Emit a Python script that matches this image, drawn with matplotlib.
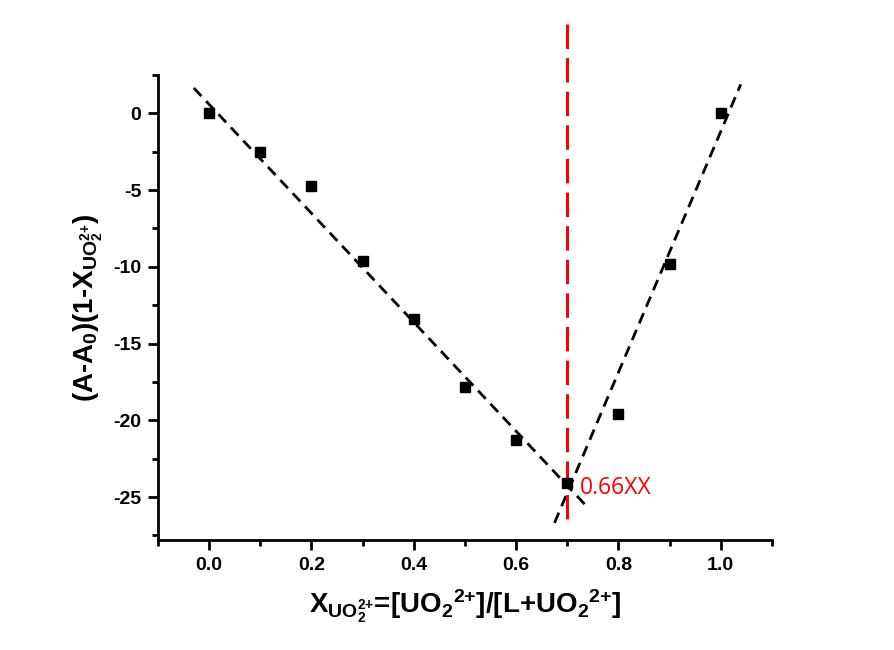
import numpy as np
import matplotlib.pyplot as plt
from matplotlib.ticker import MultipleLocator

plt.rcParams['font.family'] = 'Liberation Sans'
plt.rcParams['axes.unicode_minus'] = False
plt.rcParams['mathtext.fontset'] = 'custom'
plt.rcParams['mathtext.rm'] = 'Liberation Sans:bold'
plt.rcParams['mathtext.it'] = 'Liberation Sans:bold'
plt.rcParams['mathtext.bf'] = 'Liberation Sans:bold'
plt.rcParams['mathtext.default'] = 'rm'

# mole fraction of UO2 2+ and measured (A-A0)(1-X)
x_frac = [0.0, 0.1, 0.2, 0.3, 0.4, 0.5, 0.6, 0.7, 0.8, 0.9, 1.0]
y_val = [0.0, -2.5, -4.7, -9.6, -13.4, -17.8, -21.3, -24.1, -19.6, -9.8, 0.0]

left_fit = (-35.5, 0.59)
right_fit = (78.5, -79.67)
left_span = [-0.03, 0.734]
right_span = [0.675, 1.039]
x_cross = 0.7
cross_label = '0.66XX'

x = np.array(x_frac)
y = np.array(y_val)

fig = plt.figure(figsize=(8.94, 6.5), dpi=100)
ax = fig.add_axes([0.1767, 0.1692, 0.6868, 0.7154])

ax.plot(x, y, 's', color='black', markersize=7, zorder=5)

xs1 = np.array(left_span)
xs2 = np.array(right_span)
ax.plot(xs1, np.polyval(left_fit, xs1), color='black', lw=2, dashes=(4, 2.5))
ax.plot(xs2, np.polyval(right_fit, xs2), color='black', lw=2, dashes=(4, 2.5))

# red vertical marker, runs above the axes
ax.plot([x_cross, x_cross], [-26.4, 6.2], color='red', lw=2.2,
        dashes=(8, 3), clip_on=False, zorder=4)
ax.text(x_cross + 0.025, -24.4, cross_label, color='red', fontsize=16.5,
        family='Open Sans', va='center', ha='left')

ax.set_xlim(-0.1, 1.1)
ax.set_ylim(-27.8, 2.5)
ax.xaxis.set_major_locator(MultipleLocator(0.2))
ax.xaxis.set_minor_locator(MultipleLocator(0.1))
ax.yaxis.set_major_locator(MultipleLocator(5))
ax.yaxis.set_minor_locator(MultipleLocator(2.5))

for s in ['top', 'right']:
    ax.spines[s].set_visible(False)
for s in ['left', 'bottom']:
    ax.spines[s].set_linewidth(2)

ax.tick_params(which='major', direction='out', length=7, width=2,
               labelsize=14, pad=5)
ax.tick_params(which='minor', direction='out', length=4, width=2)
for lab in ax.get_xticklabels() + ax.get_yticklabels():
    lab.set_fontweight('bold')

ax.set_xlabel(r'$X_{\mathregular{UO_2^{2{+}}}}$=[UO$_2$$^{2{+}}$]/[L+UO$_2$$^{2{+}}$]',
              fontsize=20, fontweight='bold', labelpad=10)
ax.set_ylabel(r'(A-A$_0$)(1-X$_{\mathregular{UO_2^{2{+}}}}$)',
              fontsize=20, fontweight='bold', labelpad=6)

fig.savefig('out.png', dpi=100)
